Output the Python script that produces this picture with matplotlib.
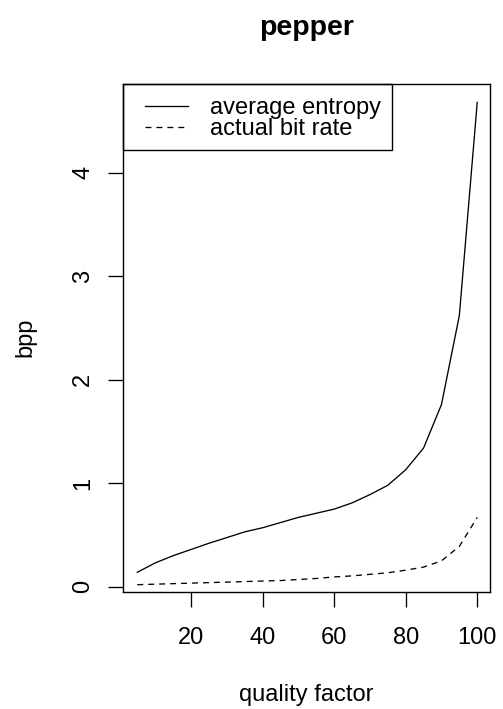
import numpy as np
import matplotlib
matplotlib.use("Agg")
import matplotlib.pyplot as plt
from matplotlib.patches import Rectangle

plt.rcParams['font.family'] = ['Liberation Sans', 'DejaVu Sans']

# quality factor vs bits per pixel
quality = np.arange(5, 101, 5)
avg_entropy = [0.14, 0.23, 0.30, 0.36, 0.42, 0.475, 0.53, 0.57, 0.62, 0.67,
               0.71, 0.75, 0.81, 0.89, 0.98, 1.13, 1.34, 1.76, 2.62, 4.68]
bit_rate = [0.02, 0.025, 0.03, 0.035, 0.04, 0.045, 0.05, 0.055, 0.06, 0.07,
            0.08, 0.095, 0.105, 0.12, 0.135, 0.16, 0.19, 0.25, 0.39, 0.67]

xticks = [20, 40, 60, 80, 100]
yticks = [0, 1, 2, 3, 4]

fs = 17
fig = plt.figure(figsize=(5.03, 7.09), dpi=100)
ax = fig.add_axes([0.2445, 0.1657, 0.7306, 0.7158])

ax.plot(quality, avg_entropy, color='black', lw=0.95, label='average entropy')
ax.plot(quality, bit_rate, color='black', lw=0.95, linestyle=(0, (4.5, 3.8)),
        label='actual bit rate')

ax.set_xlim(1.0, 103.7)
ax.set_ylim(-0.046, 4.857)
ax.set_xticks(xticks)
ax.set_yticks(yticks)
ax.tick_params(axis='both', length=10.8, width=0.95, labelsize=fs, direction='out')
ax.tick_params(axis='x', pad=15)
ax.tick_params(axis='y', pad=10)
for lab in ax.get_yticklabels():
    lab.set_rotation(90)
    lab.set_va('center')
for sp in ax.spines.values():
    sp.set_linewidth(1.0)

ax.set_xlabel('quality factor', fontsize=fs, labelpad=25)
ax.set_ylabel('bpp', fontsize=fs, labelpad=26)

fig.text(0.6098, 1 - 35 / 709, 'pepper', fontsize=20.5, fontweight='bold',
         ha='center', va='baseline')

# legend without frame, then a box drawn from the axes corner like R's legend
leg = ax.legend(loc='upper left', bbox_to_anchor=(0.06, 0.974), borderaxespad=0,
                frameon=False, fontsize=fs, handlelength=1.8, handletextpad=0.95,
                labelspacing=-0.05, borderpad=0)
fig.canvas.draw()
bb = leg.get_window_extent().transformed(ax.transAxes.inverted())
px = 1.0 / (ax.bbox.width)
py = 1.0 / (ax.bbox.height)
y0 = bb.y0 - 10 * py
box = Rectangle((0, y0), bb.x1 + 11 * px, 1 - y0,
                transform=ax.transAxes, fill=False, edgecolor='black',
                linewidth=1.0, clip_on=False, zorder=3)
ax.add_patch(box)

fig.savefig('out.png', dpi=100)
